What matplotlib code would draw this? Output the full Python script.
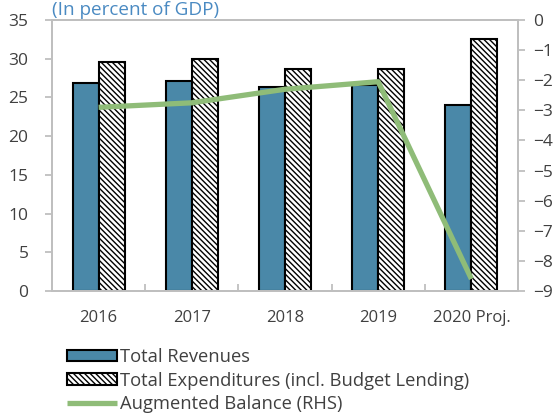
import matplotlib
matplotlib.use("Agg")
import matplotlib.pyplot as plt
import numpy as np

categories = ["2016", "2017", "2018", "2019", "2020 Proj."]
revenues = [26.8, 27.1, 26.4, 26.6, 24.0]
expenditures = [29.6, 29.9, 28.7, 28.7, 32.6]
balance = [-2.9, -2.75, -2.3, -2.05, -8.6]
left_ticks = [0, 5, 10, 15, 20, 25, 30, 35]
right_ticks = [0, -1, -2, -3, -4, -5, -6, -7, -8, -9]

plt.rcParams['font.family'] = ['Open Sans', 'DejaVu Sans']
plt.rcParams['hatch.linewidth'] = 1.0
txt = '#404040'
spine_c = '#bfbfbf'

fig = plt.figure(figsize=(5.58, 4.13), dpi=100)
ax = fig.add_axes([52/558, 1-291/413, 466/558, 271/413])
x = np.arange(len(categories))
w = 0.28
b1 = ax.bar(x - w/2, revenues, w, color='#4a88a8', edgecolor='black', linewidth=1.5,
            label='Total Revenues', zorder=2)
b2 = ax.bar(x + w/2, expenditures, w, color='white', edgecolor='black', linewidth=1.5,
            hatch='\\' * 6, label='Total Expenditures (incl. Budget Lending)', zorder=2)
ax.set_xlim(-0.5, len(categories) - 0.5)
ax.set_ylim(0, 35)
ax.set_yticks(left_ticks)
ax.set_xticks(x)
ax.set_xticklabels(categories)
ax.set_xticks(np.arange(0.5, len(categories) - 0.5, 1), minor=True)
ax.tick_params(axis='x', which='major', length=0, pad=14, labelsize=12, colors=txt)
ax.tick_params(axis='x', which='minor', length=5, direction='in', color=spine_c, width=1.3)
ax.tick_params(axis='y', length=5, width=1.3, color=spine_c, labelsize=12.5, labelcolor=txt, pad=12)
for s in ax.spines.values():
    s.set_color(spine_c)
    s.set_linewidth(1.3)

ax2 = ax.twinx()
ln, = ax2.plot(x, balance, color='#8fbc78', linewidth=3.8, label='Augmented Balance (RHS)',
               solid_capstyle='butt', zorder=3)
ax2.set_ylim(-9, 0)
ax2.set_yticks(right_ticks)
ax2.tick_params(axis='y', length=5, width=1.3, color=spine_c, labelsize=12.5, labelcolor=txt, pad=6)
for s in ax2.spines.values():
    s.set_color(spine_c)
    s.set_linewidth(1.3)

fig.text(52/558, 1-15/413, '(In percent of GDP)', color='#4a8ac2', fontsize=13.6,
         ha='left', va='baseline')

fig.legend([b1, b2, ln], [b1.get_label(), b2.get_label(), ln.get_label()],
           loc='upper left', bbox_to_anchor=(67/558, 1-348/413), frameon=False,
           fontsize=13.2, handlelength=2.75, handleheight=0.55, handletextpad=0.15,
           labelspacing=0.3, borderaxespad=0, borderpad=0, labelcolor=txt)

fig.savefig('out.png', dpi=100)
